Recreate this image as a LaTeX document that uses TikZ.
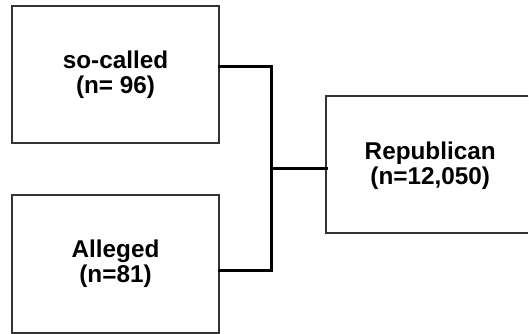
\documentclass[tikz,border=0pt]{standalone}
\usepackage{fontspec}
\setmainfont{Liberation Sans}
\begin{document}
\begin{tikzpicture}[x=1pt,y=-1pt,
  labelfont/.style={font=\fontsize{24.3}{25}\selectfont\bfseries, align=center},
  groupbox/.style={draw=black!80, line width=1.8pt, fill=white,
    minimum width=#1, inner sep=0pt, labelfont},
  openbox/.style={draw=black!80, line width=1.8pt},
  link/.style={draw=black, line width=3pt, line cap=rect}]
  \useasboundingbox (0,0) rectangle (529,333);

  % source groups
  \node[groupbox=207pt, minimum height=137pt] (socalled) at (115.5,74.5) {so-called\\(n= 96)};
  \node[groupbox=207pt, minimum height=138pt] (alleged) at (115.5,264) {Alleged\\(n=81)};
  % merged group, open towards the right edge
  \node[minimum width=202pt, minimum height=137pt, inner sep=0pt, anchor=west,
        label={[labelfont, xshift=3pt, yshift=-1.5pt]center:Republican\\(n=12,050)}]
        (repub) at (326,164.5) {};
  \draw[openbox] (repub.north east) -- (repub.north west) -- (repub.south west) -- (repub.south east);

  % bracket joining the two groups
  \coordinate (busTop) at (271,66);
  \coordinate (busBot) at (271,270);
  \coordinate (busMid) at (271,168);
  \draw[link] (socalled.east |- busTop) -- (busTop) -- (busBot) -- (alleged.east |- busBot);
  \draw[link] (busMid) -- (repub.west |- busMid);
\end{tikzpicture}
\end{document}
